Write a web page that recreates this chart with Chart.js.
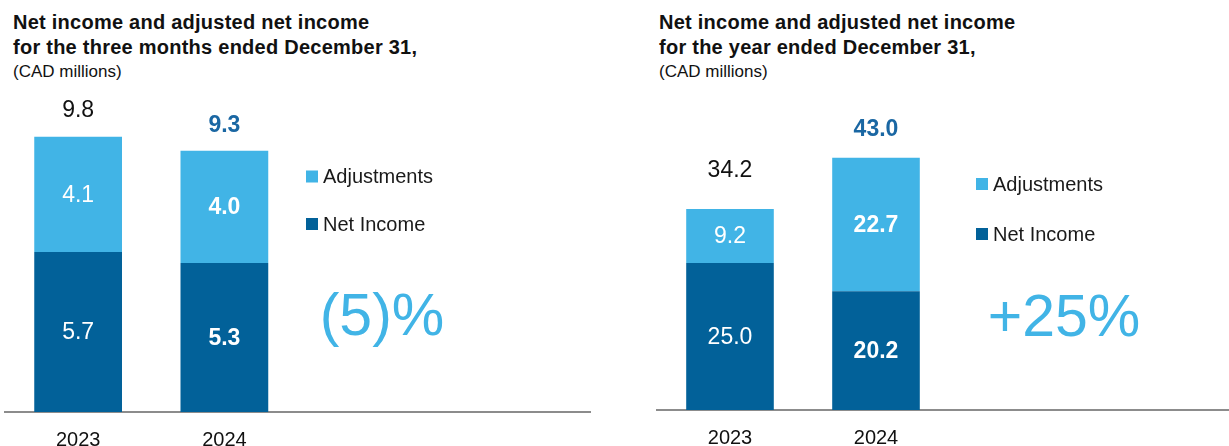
<!DOCTYPE html>
<html>
<head>
<meta charset="utf-8">
<title>Net income and adjusted net income</title>
<script src="https://cdn.jsdelivr.net/npm/chart.js@4.4.1/dist/chart.umd.min.js"></script>
<style>
  html, body { margin: 0; padding: 0; background: #fff; overflow: hidden; width: 1229px; height: 446px; }
  .title {
    position: absolute; top: 10px;
    font-family: 'Liberation Sans', Arial, sans-serif;
    font-weight: bold; font-size: 20px; line-height: 25px; letter-spacing: 0.25px;
    color: #111; white-space: nowrap;
  }
  .title .unit { display: block; font-weight: normal; font-size: 17px; line-height: 24px; letter-spacing: 0; }
  canvas { position: absolute; top: 90px; }
</style>
</head>
<body>

<div class="title" style="left:13px">
  Net income and adjusted net income<br>
  for the three months ended December 31,
  <span class="unit">(CAD millions)</span>
</div>
<div class="title" style="left:659px">
  Net income and adjusted net income<br>
  for the year ended December 31,
  <span class="unit">(CAD millions)</span>
</div>

<canvas id="quarterChart" width="600" height="378" style="left:0"></canvas>
<canvas id="yearChart" width="600" height="376" style="left:652px"></canvas>

<script>
// ---- data ----
const years = ['2023', '2024'];

const quarterNetIncome = [5.7, 5.3];
const quarterAdjustments = [4.1, 4.0];
const quarterTotals = [9.8, 9.3];

const yearNetIncome = [25.0, 20.2];
const yearAdjustments = [9.2, 22.7];
const yearTotals = [34.2, 43.0];

const changeLabels = ['(5)%', '+25%'];

// ---- styles ----
const FONT = "'Liberation Sans', Arial, sans-serif";
const DARK_BLUE = '#026199';
const LIGHT_BLUE = '#41b4e6';
const HIGHLIGHT = '#1a67a3';

Chart.defaults.font.family = FONT;
Chart.defaults.color = '#111';

// segment values, stack totals, side legend and the change figure
const barNotes = {
  id: 'barNotes',
  afterDatasetsDraw(chart, args, opts) {
    const ctx = chart.ctx;
    ctx.save();
    ctx.textAlign = 'center';
    ctx.textBaseline = 'middle';

    chart.data.datasets.forEach((ds, di) => {
      chart.getDatasetMeta(di).data.forEach((bar, i) => {
        ctx.font = (i === 1 ? 'bold ' : '') + '23px ' + FONT;
        ctx.fillStyle = '#fff';
        ctx.fillText(ds.data[i].toFixed(1), bar.x, (bar.y + bar.base) / 2 + 1);
      });
    });

    const topBars = chart.getDatasetMeta(chart.data.datasets.length - 1).data;
    opts.totals.forEach((t, i) => {
      const bar = topBars[i];
      ctx.font = (i === 1 ? 'bold ' : '') + '23px ' + FONT;
      ctx.fillStyle = i === 1 ? HIGHLIGHT : '#111';
      ctx.fillText(t.toFixed(1), bar.x, bar.y - opts.totalGap[i]);
    });

    // legend, top item is the top segment
    const items = chart.data.datasets.slice().reverse();
    ctx.textAlign = 'left';
    ctx.font = '20px ' + FONT;
    items.forEach((ds, k) => {
      const y = opts.legend.y + k * opts.legend.step;
      ctx.fillStyle = ds.backgroundColor;
      ctx.fillRect(opts.legend.x, y - 6, 12, 12);
      ctx.fillStyle = '#1a1a1a';
      ctx.fillText(ds.label, opts.legend.x + 17, y + 1);
    });

    ctx.textAlign = 'center';
    ctx.font = '59px ' + FONT;
    ctx.fillStyle = LIGHT_BLUE;
    ctx.fillText(opts.change, opts.changeAt.x, opts.changeAt.y);
    ctx.restore();
  }
};

function drawPanel(id, netIncome, adjustments, totals, change, yMax, padding, notes) {
  return new Chart(document.getElementById(id), {
    type: 'bar',
    data: {
      // two blank slots keep the bars on the left of the axis line
      labels: years.concat(['', '']),
      datasets: [
        { label: 'Net Income', data: netIncome, backgroundColor: DARK_BLUE },
        { label: 'Adjustments', data: adjustments, backgroundColor: LIGHT_BLUE }
      ]
    },
    options: {
      responsive: false,
      animation: false,
      events: [],
      layout: { padding: padding },
      datasets: { bar: { barPercentage: 1, categoryPercentage: 0.6 } },
      scales: {
        x: {
          stacked: true,
          grid: { display: false, drawTicks: false },
          border: { display: true, color: '#8c8c8c', width: 2 },
          ticks: { padding: 16, color: '#111', font: { size: 20, lineHeight: '24px' } }
        },
        y: { stacked: true, display: false, min: 0, max: yMax }
      },
      plugins: {
        legend: { display: false },
        tooltip: { enabled: false },
        barNotes: Object.assign({ totals: totals, change: change }, notes)
      }
    },
    plugins: [barNotes]
  });
}

drawPanel('quarterChart', quarterNetIncome, quarterAdjustments, quarterTotals, changeLabels[0], 11,
  { left: 5, right: 10, top: 13, bottom: 0 },
  { totalGap: [26, 25], legend: { x: 306, y: 86.5, step: 47.5 }, changeAt: { x: 382, y: 229 } });

drawPanel('yearChart', yearNetIncome, yearAdjustments, yearTotals, changeLabels[1], 50,
  { left: 5, right: 11, top: 26, bottom: 0 },
  { totalGap: [38, 28], legend: { x: 324, y: 94, step: 50 }, changeAt: { x: 412, y: 229.5 } });
</script>
</body>
</html>
